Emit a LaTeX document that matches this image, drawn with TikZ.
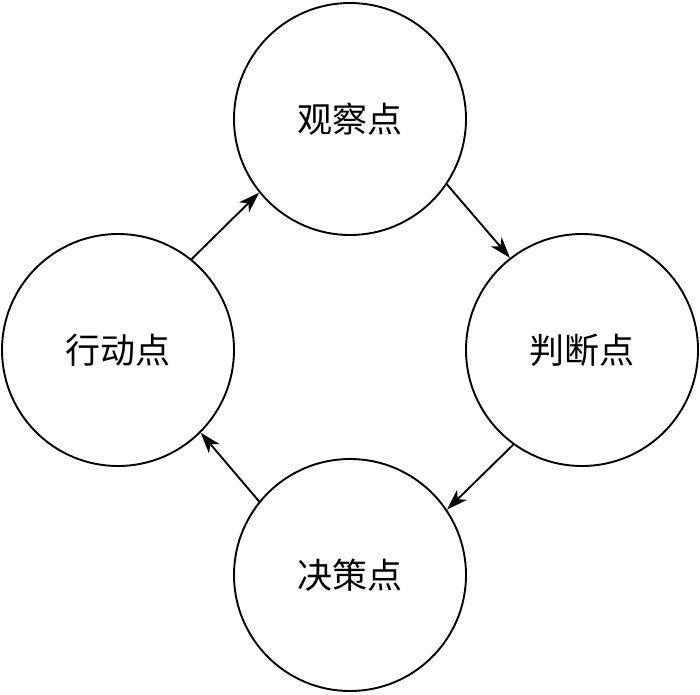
\documentclass[tikz,border=0pt]{standalone}
\usepackage{fontspec}
\newfontfamily\cjk{Noto Sans CJK SC}
\usetikzlibrary{arrows.meta}
\begin{document}
\begin{tikzpicture}[x=1pt,y=-1pt,
  stage/.style={circle,draw,line width=1.9pt,minimum size=232pt,inner sep=0pt,font=\cjk\fontsize{35}{38}\selectfont},
  flow/.style={line width=1.9pt,-{Stealth[length=21pt,width=14pt,inset=6pt]}}]
\useasboundingbox (0,0) rectangle (700,694);
\node[stage] (obs) at (350,119) {观察点};
\node[stage] (jud) at (582,350) {判断点};
\node[stage] (dec) at (350,575) {决策点};
\node[stage] (act) at (118,350) {行动点};
\draw[flow] (act.51) -- (obs.219);
\draw[flow] (obs.-34) -- (jud.128);
\draw[flow] (jud.234) -- (dec.34);
\draw[flow] (dec.141) -- (act.-45);
\end{tikzpicture}
\end{document}
